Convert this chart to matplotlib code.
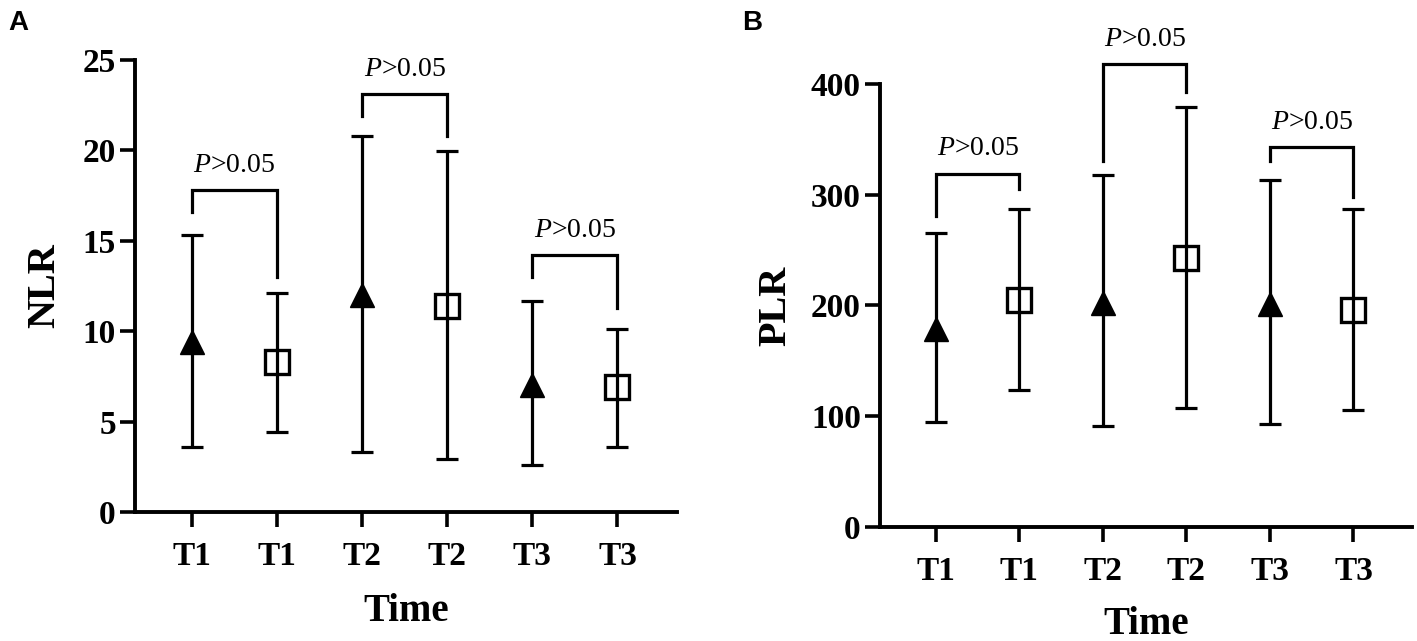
import numpy as np
import matplotlib
matplotlib.use("Agg")
import matplotlib.pyplot as plt

plt.rcParams['font.family'] = ['Liberation Serif', 'DejaVu Serif']
plt.rcParams['mathtext.fontset'] = 'custom'
plt.rcParams['mathtext.rm'] = 'Liberation Serif'
plt.rcParams['mathtext.it'] = 'Liberation Serif:italic'

# data (mean with range bars)
labels = ['T1', 'T1', 'T2', 'T2', 'T3', 'T3']
markers = ['^', 's', '^', 's', '^', 's']

nlr_mean = [9.4, 8.3, 12.0, 11.4, 7.0, 6.9]
nlr_low = [3.6, 4.4, 3.3, 2.95, 2.6, 3.6]
nlr_high = [15.3, 12.1, 20.8, 19.95, 11.7, 10.1]

plr_mean = [179, 205, 202, 243, 201, 196]
plr_low = [95, 124, 91, 107, 93, 106]
plr_high = [265, 287, 318, 379, 313, 287]

# significance brackets: (left x, right x, top, left leg end, right leg end)
nlr_brackets = [(1, 2, 17.8, 16.6, 13.0), (3, 4, 23.1, 21.9, 20.8), (5, 6, 14.2, 13.0, 11.3)]
plr_brackets = [(1, 2, 319, 281, 305), (3, 4, 418, 330, 393), (5, 6, 343, 330, 298)]
p_text = r'$\it{P}$>0.05'


def draw_panel(ax, mean, low, high, brackets, ymax, ystep, ylabel, ylabel_x):
    x = np.arange(1, len(mean) + 1)
    mean = np.array(mean)
    err = [mean - np.array(low), np.array(high) - mean]
    ax.errorbar(x, mean, yerr=err, fmt='none', ecolor='black', elinewidth=2.3,
                capsize=8, capthick=2.3, zorder=2)
    for xi, m, mk in zip(x, mean, markers):
        if mk == '^':
            ax.plot(xi, m, marker='^', ms=17, color='black', zorder=3)
        else:
            ax.plot(xi, m, marker='s', ms=17, mfc='none', mec='black', mew=2.4, zorder=3)

    for x1, x2, top, l_end, r_end in brackets:
        ax.plot([x1, x1, x2, x2], [l_end, top, top, r_end], color='black', lw=2.3,
                clip_on=False, solid_joinstyle='miter')
        ax.annotate(p_text, xy=((x1 + x2) / 2, top), xytext=(0, 9),
                    textcoords='offset points', ha='center', va='bottom',
                    fontsize=20, annotation_clip=False)

    ax.set_xlim(0.33, 6.7)
    ax.set_ylim(0, ymax)
    ax.set_yticks(np.arange(0, ymax + 1, ystep))
    ax.set_xticks(x)
    ax.set_xticklabels(labels)
    for s in ['top', 'right']:
        ax.spines[s].set_visible(False)
    for s in ['left', 'bottom']:
        ax.spines[s].set_linewidth(2.8)
    ax.tick_params(axis='both', direction='out', length=10.8, width=2.6, labelsize=24)
    ax.tick_params(axis='x', pad=10)
    ax.tick_params(axis='y', pad=3)
    for t in ax.get_xticklabels() + ax.get_yticklabels():
        t.set_fontweight('bold')

    ax.set_ylabel(ylabel, fontsize=29, fontweight='bold')
    ax.yaxis.set_label_coords(ylabel_x, 0.5)
    ax.yaxis.label.set_va('center')
    ax.set_xlabel('Time', fontsize=28, fontweight='bold')
    ax.xaxis.set_label_coords(0.5, -0.22)
    ax.xaxis.label.set_va('center')


fig = plt.figure(figsize=(14.17, 6.41), dpi=100)
ax1 = fig.add_axes([0.0953, 0.2012, 0.3825, 0.7051])
ax2 = fig.add_axes([0.621, 0.178, 0.3754, 0.691])

draw_panel(ax1, nlr_mean, nlr_low, nlr_high, nlr_brackets, 25, 5, 'NLR', -0.166)
draw_panel(ax2, plr_mean, plr_low, plr_high, plr_brackets, 400, 100, 'PLR', -0.195)

fig.text(0.006, 0.985, 'A', family='Liberation Sans', fontweight='bold', fontsize=20, va='top')
fig.text(0.524, 0.985, 'B', family='Liberation Sans', fontweight='bold', fontsize=20, va='top')

fig.savefig('out.png', dpi=100)
